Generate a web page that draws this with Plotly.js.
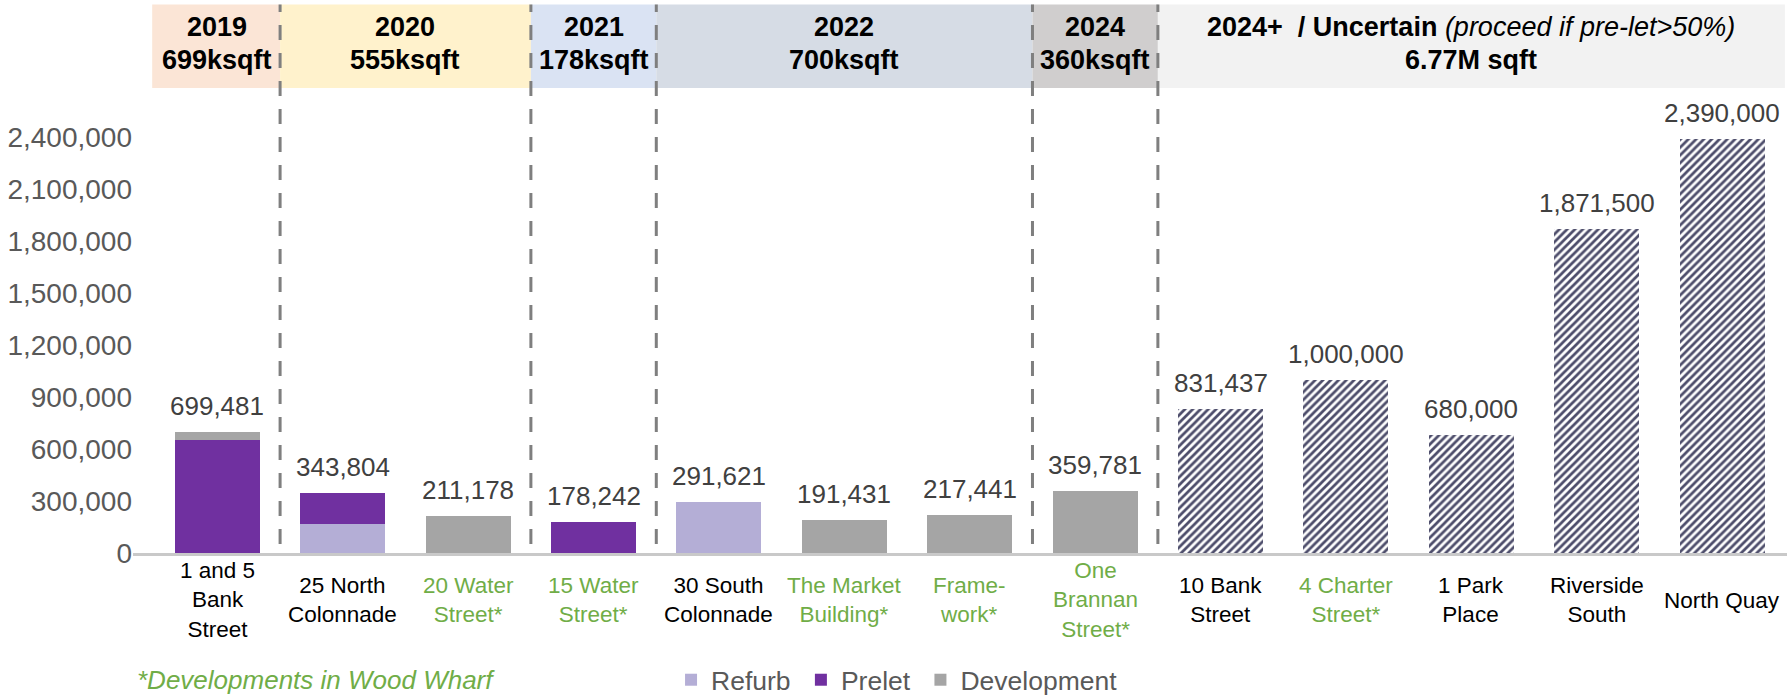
<!DOCTYPE html>
<html>
<head>
<meta charset="utf-8">
<script src="https://cdn.plot.ly/plotly-3.0.1.min.js"></script>
<style>
  html, body { margin: 0; padding: 0; background: #ffffff; }
  #chart { width: 1787px; height: 698px; }
</style>
</head>
<body>
<div id="chart"></div>
<script>
// ---- data ----
const categories = ['1 and 5 Bank Street', '25 North Colonnade', '20 Water Street*', '15 Water Street*',
  '30 South Colonnade', 'The Market Building*', 'Framework*', 'One Brannan Street*',
  '10 Bank Street', '4 Charter Street*', '1 Park Place', 'Riverside South', 'North Quay'];
const categoryLabels = ['1 and 5<br>Bank<br>Street', '25 North<br>Colonnade', '20 Water<br>Street*', '15 Water<br>Street*',
  '30 South<br>Colonnade', 'The Market<br>Building*', 'Frame-<br>work*', 'One<br>Brannan<br>Street*',
  '10 Bank<br>Street', '4 Charter<br>Street*', '1 Park<br>Place', 'Riverside<br>South', 'North Quay'];
const woodWharf = [false, false, true, true, false, true, true, true, false, true, false, false, false];

const refurb      = [null, 170000, null, null, 291621, null, null, null, null, null, null, null, null];
const prelet      = [650000, 173804, null, 178242, null, null, null, null, null, null, null, null, null];
const development = [49481, null, 211178, null, null, 191431, 217441, 359781, null, null, null, null, null];
const uncertain   = [null, null, null, null, null, null, null, null, 831437, 1000000, 680000, 1871500, 2390000];
const totals      = [699481, 343804, 211178, 178242, 291621, 191431, 217441, 359781, 831437, 1000000, 680000, 1871500, 2390000];

const yTicks = [0, 300000, 600000, 900000, 1200000, 1500000, 1800000, 2100000, 2400000];

const periodYears = ['2019', '2020', '2021', '2022', '2024', '2024+&nbsp;&nbsp;/ Uncertain '];
const periodSizes = ['699ksqft', '555ksqft', '178ksqft', '700ksqft', '360ksqft', '6.77M sqft'];
const periodNotes = ['', '', '', '', '', '(proceed if pre-let&gt;50%)'];
const periodFirst = [0, 1, 3, 4, 7, 8];
const periodLast  = [0, 2, 3, 6, 7, 12];
const periodColors = ['#fbe5d6', '#fff2cc', '#dae3f3', '#d6dce5', '#d0cece', '#f2f2f2'];
const dividers = [0.5, 2.5, 3.5, 6.5, 7.5];

// ---- layout helpers ----
const FONT = 'Liberation Sans, Arial, Helvetica, sans-serif';
const H = 698, T = 100, B = 145;
const plotH = H - T - B;
const py = (px) => (H - B - px) / plotH;   // pixel-from-top -> paper y

const traces = [
  { type: 'bar', name: 'Refurb\u2009', x: categories, y: refurb, marker: { color: '#b4aed6' } },
  { type: 'bar', name: 'Prelet\u2009', x: categories, y: prelet, marker: { color: '#7030a0' } },
  { type: 'bar', name: 'Development', x: categories, y: development, marker: { color: '#a5a5a5' } },
  { type: 'bar', name: 'Uncertain', x: categories, y: uncertain, showlegend: false,
    marker: { color: '#ffffff', pattern: { shape: '/', fgcolor: '#4d4d6b', bgcolor: '#ffffff', size: 5.5, solidity: 0.5 } } }
];

const shapes = [];
const annotations = [];

periodFirst.forEach((f, i) => {
  const x0 = i === 0 ? f - 0.52 : f - 0.5;
  const x1 = periodLast[i] + 0.5;
  shapes.push({ type: 'rect', xref: 'x', yref: 'paper', x0: x0, x1: x1, y0: py(88), y1: py(4.5),
    fillcolor: periodColors[i], line: { width: 0 }, layer: 'below' });
  const cx = (f + periodLast[i]) / 2;
  let t1 = '<b>' + periodYears[i] + '</b>';
  if (periodNotes[i]) t1 += '<i>' + periodNotes[i] + '</i>';
  annotations.push({ xref: 'x', yref: 'paper', x: cx, y: py(27), yanchor: 'middle', xanchor: 'center',
    text: t1, showarrow: false, font: { family: FONT, size: 27, color: '#000000' } });
  annotations.push({ xref: 'x', yref: 'paper', x: cx, y: py(60), yanchor: 'middle', xanchor: 'center',
    text: '<b>' + periodSizes[i] + '</b>', showarrow: false, font: { family: FONT, size: 27, color: '#000000' } });
});

dividers.forEach(d => {
  shapes.push({ type: 'line', xref: 'x', yref: 'paper', x0: d, x1: d, y0: py(544), y1: py(4.5),
    line: { color: '#7f7f7f', width: 3, dash: '15px,13px' } });
});

categories.forEach((c, i) => {
  annotations.push({ xref: 'x', yref: 'y', x: c, y: totals[i], yanchor: 'bottom', xanchor: 'center', yshift: 9,
    text: totals[i].toLocaleString('en-US'), showarrow: false, font: { family: FONT, size: 26, color: '#404040' } });
  annotations.push({ xref: 'x', yref: 'paper', x: c, y: py(600), yanchor: 'middle', xanchor: 'center',
    text: categoryLabels[i], showarrow: false, align: 'center',
    font: { family: FONT, size: 22.5, color: woodWharf[i] ? '#70ad47' : '#000000' } });
});

annotations.push({ xref: 'paper', yref: 'paper', x: 0.001, y: py(680), xanchor: 'left', yanchor: 'middle',
  text: '<i>*Developments in Wood Wharf</i>', showarrow: false, font: { family: FONT, size: 26, color: '#70ad47' } });

const layout = {
  width: 1787, height: 698,
  margin: { l: 133, r: 0, t: T, b: B, pad: 0, autoexpand: false },
  paper_bgcolor: '#ffffff', plot_bgcolor: 'rgba(0,0,0,0)',
  barmode: 'stack', bargap: 0.322,
  showlegend: true,
  legend: { orientation: 'h', x: 0.3253, xanchor: 'left', y: py(680), yanchor: 'middle', traceorder: 'normal',
    font: { family: FONT, size: 26.5, color: '#595959' }, bgcolor: 'rgba(0,0,0,0)' },
  xaxis: { type: 'category', range: [-0.673, 12.517], showticklabels: false, ticks: '', showgrid: false,
    zeroline: false, showline: true, linecolor: '#c9c9c9', linewidth: 2.5, fixedrange: true, automargin: false },
  yaxis: { range: [0, plotH * 2400000 / 416], tickvals: yTicks, tickformat: ',.0f', showgrid: false, zeroline: false,
    showline: false, ticks: '', tickfont: { family: FONT, size: 28, color: '#595959' }, fixedrange: true, automargin: false },
  shapes: shapes,
  annotations: annotations,
  hovermode: false,
  font: { family: FONT }
};

Plotly.newPlot('chart', traces, layout, { displayModeBar: false, staticPlot: true });
</script>
</body>
</html>
